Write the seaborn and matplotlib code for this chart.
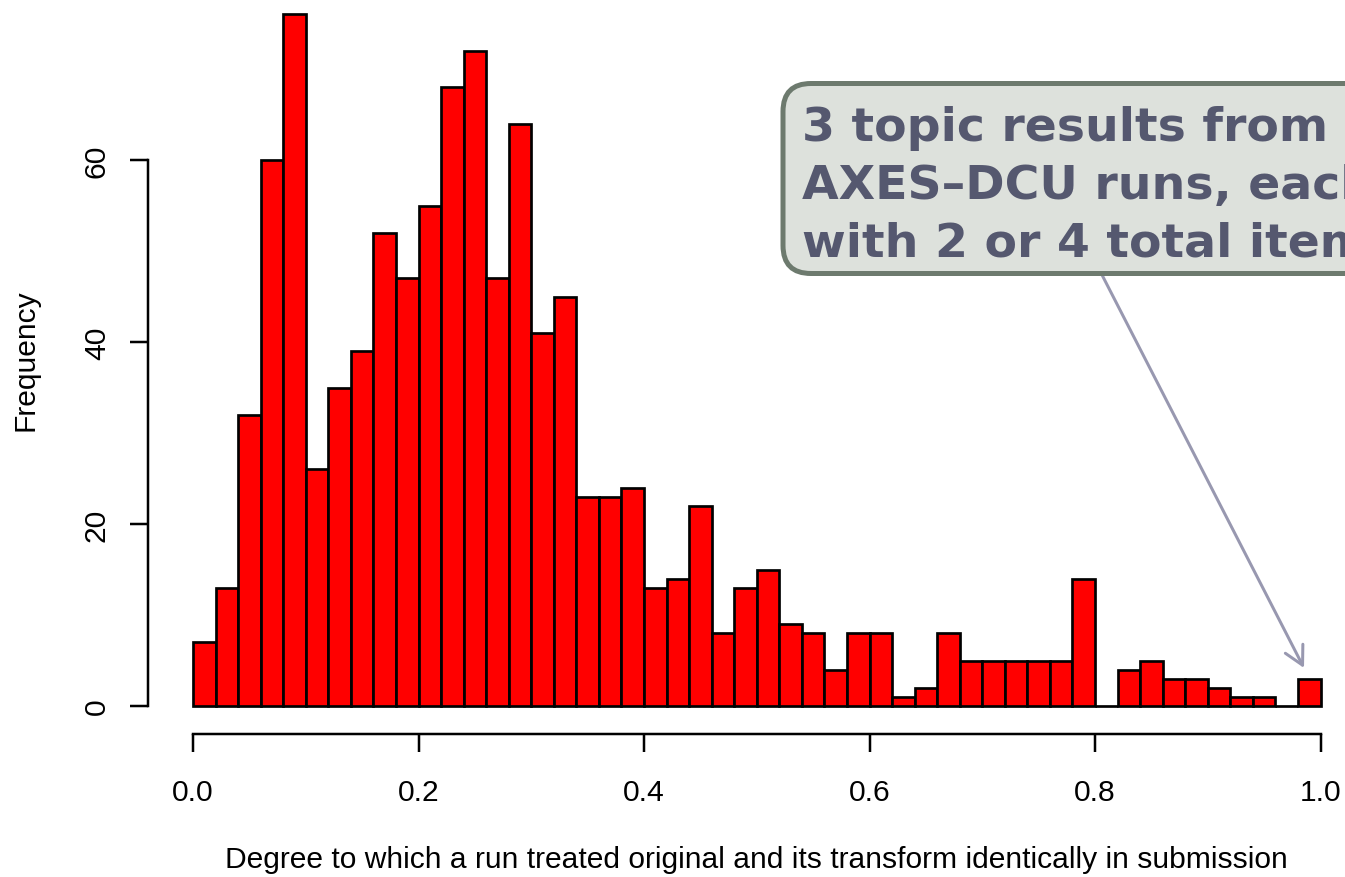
import numpy as np
import pandas as pd
import matplotlib
matplotlib.use("Agg")
import matplotlib.pyplot as plt
import seaborn as sns
from matplotlib.patches import FancyBboxPatch

# ---------------- data ----------------
bin_width = 0.02
bin_edges = [round(i * bin_width, 2) for i in range(51)]     # 0.00 ... 1.00
counts = [7, 13, 32, 60, 76, 26, 35, 39, 52, 47,
          55, 68, 72, 47, 64, 41, 45, 23, 23, 24,
          13, 14, 22, 8, 13, 15, 9, 8, 4, 8,
          8, 1, 2, 8, 5, 5, 5, 5, 5, 14,
          0, 4, 5, 3, 3, 2, 1, 1, 0, 3]
xticks = [0.0, 0.2, 0.4, 0.6, 0.8, 1.0]
xtick_labels = ["0.0", "0.2", "0.4", "0.6", "0.8", "1.0"]
yticks = [0, 20, 40, 60]
ytick_labels = ["0", "20", "40", "60"]
x_label = "Degree to which a run treated original and its transform identically in submission"
y_label = "Frequency"
note_lines = ["3 topic results from", "AXES\u2013DCU runs, each", "with 2 or 4 total items"]

df = pd.DataFrame({"degree": [e + bin_width / 2 for e in bin_edges[:-1]],
                   "count": counts})

# ---------------- style ----------------
sns.set_style("white")
plt.rcParams["font.family"] = ["Liberation Sans", "DejaVu Sans"]

W, H, DPI = 1345, 878, 100
PT = 72 / DPI  # points per pixel

fig = plt.figure(figsize=(W / DPI, H / DPI), dpi=DPI)
fig.patch.set_facecolor("white")

px_per_unit = 546 / 60.0
ax = fig.add_axes([193 / W, (H - 707) / H, 1127.5 / W, 707 / H])
ax.set_facecolor("white")

sns.histplot(data=df, x="degree", weights="count", bins=bin_edges,
             color="#ff0000", edgecolor="black", linewidth=2.7 * PT,
             alpha=1, ax=ax)
for p in ax.patches:
    p.set_clip_on(False)

ax.set_xlim(0, 1)
ax.set_ylim(0, 707 / px_per_unit)

for s in ["top", "right"]:
    ax.spines[s].set_visible(False)
ax.spines["left"].set_position(("outward", 45 * PT))
ax.spines["left"].set_bounds(0, 60)
ax.spines["bottom"].set_position(("outward", 28 * PT))
ax.spines["bottom"].set_bounds(0, 1)
for s in ["left", "bottom"]:
    ax.spines[s].set_linewidth(2.5 * PT)
    ax.spines[s].set_color("black")

ax.set_xticks(xticks)
ax.set_xticklabels(xtick_labels)
ax.set_yticks(yticks)
ax.set_yticklabels(ytick_labels, rotation=90, va="center")
ax.tick_params(axis="both", which="major", bottom=True, left=True,
               top=False, right=False,
               length=18 * PT, width=2.5 * PT, direction="out",
               color="black", labelsize=30 * PT, labelcolor="black")
ax.tick_params(axis="x", pad=26 * PT)
ax.tick_params(axis="y", pad=19 * PT)

ax.set_xlabel(x_label, fontsize=30 * PT, color="black")
ax.xaxis.set_label_coords(0.5, (707 - 868) / 707)
ax.xaxis.label.set_va("baseline")
ax.set_ylabel(y_label, fontsize=30 * PT, color="black")
ax.yaxis.set_label_coords((26 - 193) / 1127.5, (707 - 360) / 707)
ax.yaxis.label.set_va("center")

# ---------------- callout overlay (pixel coordinates) ----------------
oax = fig.add_axes([0, 0, 1, 1], zorder=5)
oax.set_xlim(0, W)
oax.set_ylim(H, 0)
oax.axis("off")
oax.patch.set_alpha(0)

oax.annotate("", xy=(1304, 669), xytext=(1100, 272),
             arrowprops=dict(arrowstyle="->,head_length=13.3,head_width=7.1",
                             mutation_scale=1, color="#9898b0",
                             lw=3 * PT, shrinkA=0, shrinkB=0),
             zorder=1)

box = FancyBboxPatch((783, 84.5), 700, 190,
                     boxstyle="round,pad=0,rounding_size=28",
                     facecolor="#dde1dc", edgecolor="#6d7a6e",
                     linewidth=5 * PT, zorder=2)
oax.add_patch(box)

for i, line in enumerate(note_lines):
    oax.text(802, 141 + 58 * i, line, fontsize=47.4 * PT, fontweight="bold",
             family=["DejaVu Sans"], color="#55586f", ha="left", va="baseline",
             zorder=3)

fig.savefig("out.png", dpi=DPI)
